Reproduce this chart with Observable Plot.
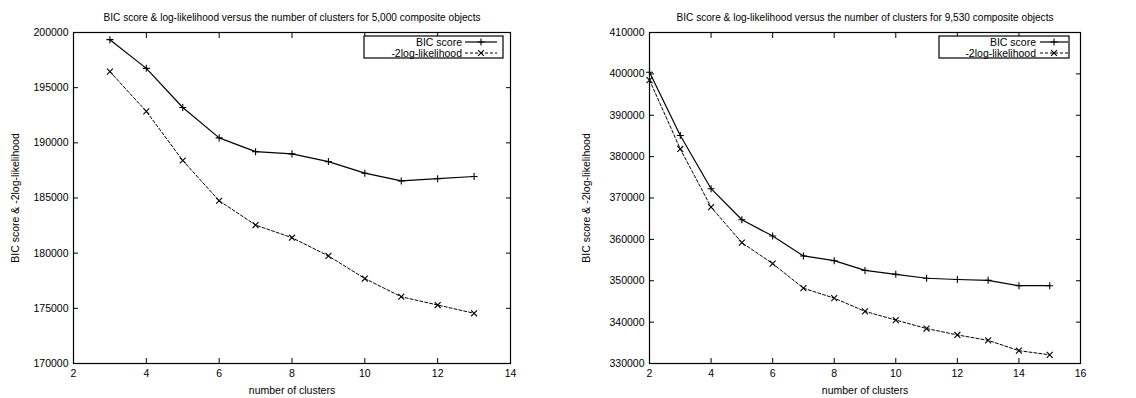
<!DOCTYPE html>
<html>
<head>
<meta charset="utf-8">
<script src="https://cdn.jsdelivr.net/npm/d3@7"></script>
<script src="https://cdn.jsdelivr.net/npm/@observablehq/plot@0.6"></script>
<style>
  html, body { margin: 0; padding: 0; background: #fff; }
  #wrap { display: flex; width: 1136px; height: 398px; }
  #wrap > div { width: 568px; height: 398px; }
</style>
</head>
<body>
<div id="wrap"><div id="left"></div><div id="right"></div></div>
<script>
// ---- Data ----
const titleA = "BIC score & log-likelihood versus the number of clusters for 5,000 composite objects";
const titleB = "BIC score & log-likelihood versus the number of clusters for 9,530 composite objects";
const seriesNames = ["BIC score", "-2log-likelihood"];
const xLabel = "number of clusters";
const yLabel = "BIC score & -2log-likelihood";

const clustersA = [3, 4, 5, 6, 7, 8, 9, 10, 11, 12, 13];
const bicA = [199350, 196750, 193200, 190450, 189200, 189000, 188300, 187250, 186550, 186750, 186950];
const llA  = [196450, 192850, 188400, 184750, 182550, 181400, 179750, 177700, 176050, 175300, 174550];
const xTicksA = [2, 4, 6, 8, 10, 12, 14];
const yTicksA = [170000, 175000, 180000, 185000, 190000, 195000, 200000];

const clustersB = [2, 3, 4, 5, 6, 7, 8, 9, 10, 11, 12, 13, 14, 15];
const bicB = [400400, 385100, 372250, 364750, 360800, 356000, 354850, 352500, 351550, 350600, 350300, 350100, 348800, 348800];
const llB  = [398500, 381850, 367800, 359200, 354150, 348200, 345800, 342600, 340500, 338450, 336900, 335600, 333100, 332100];
const xTicksB = [2, 4, 6, 8, 10, 12, 14, 16];
const yTicksB = [330000, 340000, 350000, 360000, 370000, 380000, 390000, 400000, 410000];

const FONT = "'Liberation Sans', Arial, Helvetica, sans-serif";

function panel(el, cfg) {
  const bicData = cfg.x.map((c, i) => ({c, v: cfg.bic[i]}));
  const llData = cfg.x.map((c, i) => ({c, v: cfg.ll[i]}));
  const xt = cfg.xTicks, yt = cfg.yTicks;
  const svg = Plot.plot({
    width: 568,
    height: 398,
    marginLeft: cfg.marginLeft,
    marginRight: cfg.marginRight,
    marginTop: 32,
    marginBottom: 35,
    style: {fontFamily: FONT, fontSize: "10px", background: "#fff", color: "#000", overflow: "visible"},
    x: {domain: [xt[0], xt[xt.length - 1]]},
    y: {domain: [yt[0], yt[yt.length - 1]]},
    marks: [
      Plot.axisX({ticks: xt, tickSize: -5, tickPadding: 11, label: xLabel, labelAnchor: "center", labelArrow: "none", labelOffset: 30, fontSize: 10.5}),
      Plot.axisX({anchor: "top", ticks: xt, tickSize: -5, tickFormat: () => "", label: null}),
      Plot.axisY({ticks: yt, tickSize: -5, tickPadding: 10, tickFormat: d => String(d), label: yLabel, labelAnchor: "center", labelArrow: "none", labelOffset: cfg.labelOffset, fontSize: 10.5}),
      Plot.axisY({anchor: "right", ticks: yt, tickSize: -5, tickFormat: () => "", label: null}),
      Plot.frame({stroke: "#000", strokeWidth: 1.2}),
      Plot.line(bicData, {x: "c", y: "v", stroke: "#000", strokeWidth: 1.2}),
      Plot.dot(bicData, {x: "c", y: "v", symbol: "plus", r: 2.4, stroke: "#000", strokeWidth: 1.1}),
      Plot.line(llData, {x: "c", y: "v", stroke: "#000", strokeWidth: 1, strokeDasharray: "3,2"}),
      Plot.dot(llData, {x: "c", y: "v", symbol: "times", r: 2.8, stroke: "#000", strokeWidth: 1.1}),
      Plot.text([cfg.title], {frameAnchor: "top", dy: -19, fontSize: 10.1, fill: "#000"})
    ]
  });
  // Legend box (gnuplot-style key)
  const L = cfg.legend;
  const g = d3.select(svg).append("g").attr("font-family", FONT).attr("font-size", 10.5);
  g.append("rect").attr("x", L.x0).attr("y", 36).attr("width", L.x1 - L.x0).attr("height", 22)
    .attr("fill", "#fff").attr("stroke", "#000").attr("stroke-width", 1.2);
  const rows = [42, 53];
  seriesNames.forEach((name, i) => {
    g.append("text").attr("x", L.textEnd).attr("y", rows[i]).attr("dy", "0.35em")
      .attr("text-anchor", "end").attr("fill", "#000").text(name);
    g.append("line").attr("x1", L.s0).attr("x2", L.s1).attr("y1", rows[i]).attr("y2", rows[i])
      .attr("stroke", "#000").attr("stroke-width", i === 0 ? 1.2 : 1)
      .attr("stroke-dasharray", i === 0 ? null : "3,2");
    const sym = i === 0 ? d3.symbolPlus : d3.symbolTimes;
    const size = i === 0 ? Math.PI * 2.4 * 2.4 : Math.PI * 2.8 * 2.8;
    g.append("path").attr("d", d3.symbol(sym, size)())
      .attr("transform", `translate(${(L.s0 + L.s1) / 2},${rows[i]})`)
      .attr("fill", "none").attr("stroke", "#000").attr("stroke-width", 1.1);
  });
  el.appendChild(svg);
}

panel(document.getElementById("left"), {
  title: titleA, x: clustersA, bic: bicA, ll: llA, xTicks: xTicksA, yTicks: yTicksA,
  marginLeft: 73, marginRight: 58, labelOffset: 62,
  legend: {x0: 364, x1: 503, textEnd: 462, s0: 465, s1: 497}
});
panel(document.getElementById("right"), {
  title: titleB, x: clustersB, bic: bicB, ll: llB, xTicks: xTicksB, yTicks: yTicksB,
  marginLeft: 81, marginRight: 56, labelOffset: 67,
  legend: {x0: 371, x1: 501, textEnd: 468, s0: 472, s1: 500}
});
</script>
</body>
</html>
